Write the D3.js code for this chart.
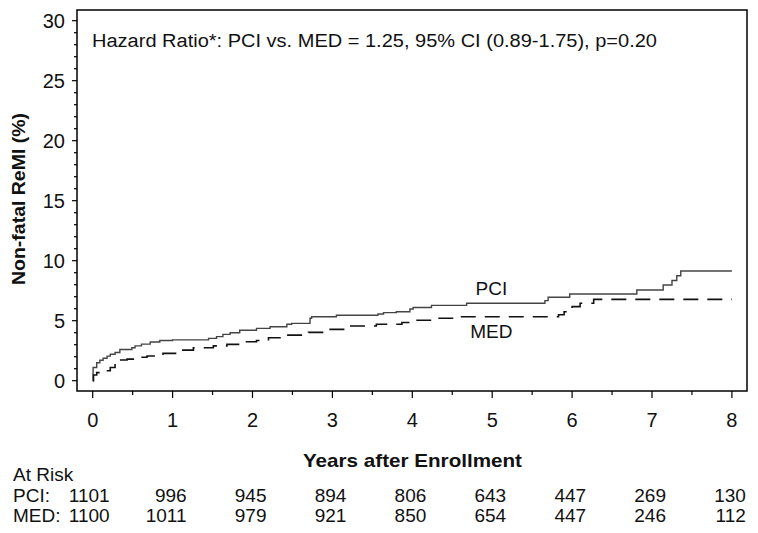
<!DOCTYPE html>
<html>
<head>
<meta charset="utf-8">
<script src="https://cdn.jsdelivr.net/npm/d3@7"></script>
<style>
  html, body { margin: 0; padding: 0; background: #fff; }
  svg { display: block; font-family: "Liberation Sans", Arial, sans-serif; }
</style>
</head>
<body>
<svg id="chart" width="758" height="533"></svg>
<script>
// ---- data ----
const pciTimes  = [0, 0.005, 0.05, 0.09, 0.13, 0.18, 0.22, 0.28, 0.34, 0.49, 0.53, 0.61, 0.72, 0.84, 1.0, 1.45, 1.55, 1.63, 1.72, 1.84, 2.05, 2.22, 2.43, 2.49, 2.72, 2.74, 3.05, 3.57, 3.64, 3.8, 3.97, 4.01, 4.24, 4.68, 5.66, 5.7, 5.97, 6.81, 7.14, 7.25, 7.31, 7.36, 8.0];
const pciValues = [0, 1.1, 1.5, 1.7, 1.87, 2.05, 2.2, 2.35, 2.6, 2.75, 2.9, 3.05, 3.22, 3.35, 3.4, 3.53, 3.67, 3.86, 4.0, 4.2, 4.36, 4.5, 4.7, 4.78, 5.2, 5.33, 5.45, 5.56, 5.67, 5.75, 5.97, 6.1, 6.28, 6.45, 6.67, 6.95, 7.22, 7.56, 7.97, 8.35, 8.75, 9.14, 9.14];
const medTimes  = [0, 0.01, 0.05, 0.13, 0.22, 0.28, 0.32, 0.43, 0.55, 0.68, 0.88, 1.05, 1.26, 1.51, 1.68, 1.88, 2.05, 2.2, 2.43, 2.7, 2.93, 3.14, 3.55, 3.87, 4.06, 4.3, 4.56, 5.83, 5.9, 6.0, 6.1, 6.27, 8.0];
const medValues = [0, 0.47, 0.67, 0.83, 1.1, 1.5, 1.73, 1.8, 1.95, 2.06, 2.28, 2.55, 2.75, 2.9, 3.03, 3.25, 3.35, 3.58, 3.8, 4.03, 4.28, 4.56, 4.7, 4.85, 5.04, 5.2, 5.33, 5.5, 5.75, 6.17, 6.45, 6.78, 6.78];

const xTickValues = [0, 1, 2, 3, 4, 5, 6, 7, 8];
const yTickValues = [0, 5, 10, 15, 20, 25, 30];
const atRiskYears = [0, 1, 2, 3, 4, 5, 6, 7, 8];
const atRiskPCI = [1101, 996, 945, 894, 806, 643, 447, 269, 130];
const atRiskMED = [1100, 1011, 979, 921, 850, 654, 447, 246, 112];

const titleText = "Hazard Ratio*: PCI vs. MED = 1.25, 95% CI (0.89-1.75), p=0.20";
const yTitle = "Non-fatal ReMI (%)";
const xTitle = "Years after Enrollment";
const seriesLabels = ["PCI", "MED"];
const seriesLabelAnchor = [[4.99, 7.14], [4.99, 3.56]];

// ---- layout ----
const svg = d3.select("#chart");
const box = { left: 77, top: 10, right: 747, bottom: 391 };
const x = d3.scaleLinear().domain([0, 8]).range([92.7, 731.9]);
const y = d3.scaleLinear().domain([0, 30]).range([380.7, 20.7]);

// frame
svg.append("rect")
  .attr("x", box.left).attr("y", box.top)
  .attr("width", box.right - box.left).attr("height", box.bottom - box.top)
  .attr("fill", "none").attr("stroke", "#000").attr("stroke-width", 1.5);

// y axis ticks
const yMinor = d3.range(0, 31, 1);
svg.append("g").selectAll("line").data(yMinor).join("line")
  .attr("x1", box.left).attr("x2", d => box.left - (d % 5 === 0 ? 5 : 3))
  .attr("y1", d => y(d)).attr("y2", d => y(d))
  .attr("stroke", "#000").attr("stroke-width", 1.2);
svg.append("g").selectAll("text").data(yTickValues).join("text")
  .attr("x", 65).attr("y", d => y(d) + 7.3)
  .attr("text-anchor", "end").attr("font-size", 20).attr("fill", "#111")
  .text(d => d);

// x axis ticks
const xMinor = d3.range(0, 8.01, 0.5);
svg.append("g").selectAll("line").data(xMinor).join("line")
  .attr("x1", d => x(d)).attr("x2", d => x(d))
  .attr("y1", box.bottom).attr("y2", d => box.bottom + (Number.isInteger(d) ? 7 : 4))
  .attr("stroke", "#000").attr("stroke-width", 1.2);
svg.append("g").selectAll("text").data(xTickValues).join("text")
  .attr("x", d => x(d)).attr("y", 427)
  .attr("text-anchor", "middle").attr("font-size", 20).attr("fill", "#111")
  .text(d => d);

// curves
const line = d3.line().x(d => x(d[0])).y(d => y(d[1])).curve(d3.curveStepAfter);
const pciData = pciTimes.map((t, i) => [t, pciValues[i]]);
const medData = medTimes.map((t, i) => [t, medValues[i]]);
svg.append("path").datum(pciData).attr("d", line)
  .attr("fill", "none").attr("stroke", "#444").attr("stroke-width", 1.4);
svg.append("path").datum(medData).attr("d", line)
  .attr("fill", "none").attr("stroke", "#111").attr("stroke-width", 1.6)
  .attr("stroke-dasharray", "15,9");

// series labels
svg.append("g").selectAll("text").data(seriesLabels).join("text")
  .attr("x", (d, i) => x(seriesLabelAnchor[i][0]))
  .attr("y", (d, i) => y(seriesLabelAnchor[i][1]))
  .attr("text-anchor", "middle").attr("font-size", 19).attr("fill", "#111")
  .text(d => d);

// title inside plot
svg.append("text").attr("x", 92).attr("y", 46.5)
  .attr("font-size", 18).attr("fill", "#111")
  .attr("textLength", 565).attr("lengthAdjust", "spacingAndGlyphs")
  .text(titleText);

// axis titles
svg.append("text")
  .attr("transform", "translate(25,199) rotate(-90)")
  .attr("text-anchor", "middle").attr("font-size", 18).attr("font-weight", "bold")
  .attr("fill", "#111")
  .attr("textLength", 172).attr("lengthAdjust", "spacingAndGlyphs")
  .text(yTitle);
svg.append("text").attr("x", 303).attr("y", 467)
  .attr("font-size", 19).attr("font-weight", "bold").attr("fill", "#111")
  .attr("textLength", 219).attr("lengthAdjust", "spacingAndGlyphs")
  .text(xTitle);

// at risk table
svg.append("text").attr("x", 13).attr("y", 481)
  .attr("font-size", 19).attr("fill", "#111").text("At Risk");
svg.append("text").attr("x", 13).attr("y", 502)
  .attr("font-size", 19).attr("fill", "#111").text("PCI:");
svg.append("text").attr("x", 13).attr("y", 522)
  .attr("font-size", 19).attr("fill", "#111").text("MED:");
svg.append("g").selectAll("text").data(atRiskPCI).join("text")
  .attr("x", (d, i) => x(atRiskYears[i]) + (i === 0 ? 17 : 14)).attr("y", 502)
  .attr("text-anchor", "end").attr("font-size", 19).attr("fill", "#111")
  .text(d => d);
svg.append("g").selectAll("text").data(atRiskMED).join("text")
  .attr("x", (d, i) => x(atRiskYears[i]) + (i === 0 ? 17 : 14)).attr("y", 522)
  .attr("text-anchor", "end").attr("font-size", 19).attr("fill", "#111")
  .text(d => d);
</script>
</body>
</html>
